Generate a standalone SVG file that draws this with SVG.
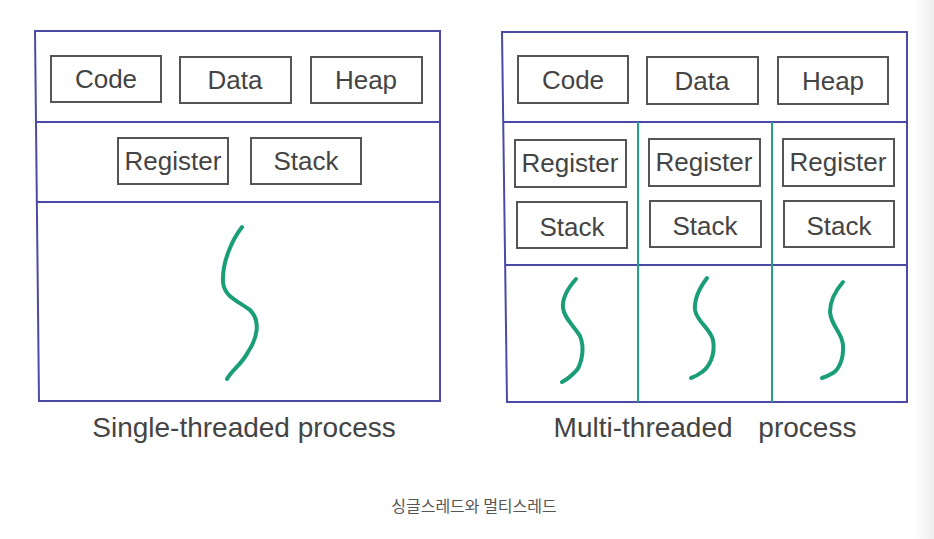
<svg xmlns="http://www.w3.org/2000/svg" width="934" height="539" viewBox="0 0 934 539">
<defs>
<linearGradient id="edge" x1="0" y1="0" x2="1" y2="0">
<stop offset="0" stop-color="#ffffff"/>
<stop offset="1" stop-color="#eeeeee"/>
</linearGradient>
<style>
.outer{fill:none;stroke:#4b4ba6;stroke-width:2}
.div{fill:none;stroke:#4b4ba6;stroke-width:2}
.tdiv{fill:none;stroke:#23a383;stroke-width:2}
.box{fill:#fff;stroke:#555;stroke-width:2}
.lbl{font-family:"Liberation Sans",Arial,sans-serif;font-size:26px;fill:#444;text-anchor:middle}
.title{font-family:"Liberation Sans",Arial,sans-serif;font-size:28px;fill:#444;text-anchor:middle}
.thread{fill:none;stroke:#1a9e78;stroke-width:4;stroke-linecap:round;stroke-linejoin:round}
.cap{font-family:"Noto Sans CJK KR","Noto Sans",sans-serif;font-size:16px;fill:#555;text-anchor:middle}
</style>
</defs>
<rect width="934" height="539" fill="#fff"/>
<rect x="914" y="0" width="20" height="539" fill="url(#edge)"/>

<g id="single-process">
<path class="outer" d="M35 31 L440 31 L440 401 L39 401 Z"/>
<line class="div" x1="36" y1="122" x2="440" y2="122"/>
<line class="div" x1="37" y1="202" x2="440" y2="202"/>
</g>
<g id="s-code"><rect class="box" x="51" y="56" width="110" height="46"/><text class="lbl" x="106" y="88">Code</text></g>
<g id="s-data"><rect class="box" x="180" y="57" width="111" height="46"/><text class="lbl" x="235" y="89">Data</text></g>
<g id="s-heap"><rect class="box" x="311" y="57" width="111" height="46"/><text class="lbl" x="366" y="89">Heap</text></g>
<g id="s-register"><rect class="box" x="118" y="138" width="110" height="46"/><text class="lbl" x="173" y="170">Register</text></g>
<g id="s-stack"><rect class="box" x="251" y="138" width="110" height="46"/><text class="lbl" x="306" y="170">Stack</text></g>
<g id="s-thread"><path class="thread" d="M242 227 C232 240 222 262 223 282 C224 296 236 300 250 310 C262 322 256 340 248 352 C242 364 232 370 227 379"/></g>
<g id="s-title"><text class="title" x="244" y="437">Single-threaded process</text></g>

<g id="multi-process">
<path class="outer" d="M502 32 L907 32 L907 402 L507 402 Z"/>
<line class="div" x1="503" y1="122" x2="907" y2="122"/>
<line class="div" x1="505" y1="265" x2="907" y2="265"/>
<line class="tdiv" x1="638" y1="122" x2="638" y2="402"/>
<line class="tdiv" x1="772" y1="122" x2="772" y2="402"/>
</g>
<g id="m-code"><rect class="box" x="518" y="56" width="110" height="47"/><text class="lbl" x="573" y="89">Code</text></g>
<g id="m-data"><rect class="box" x="647" y="57" width="111" height="47"/><text class="lbl" x="702" y="90">Data</text></g>
<g id="m-heap"><rect class="box" x="778" y="57" width="110" height="47"/><text class="lbl" x="833" y="90">Heap</text></g>
<g id="m-register1"><rect class="box" x="515" y="140" width="111" height="47"/><text class="lbl" x="570" y="172">Register</text></g>
<g id="m-stack1"><rect class="box" x="517" y="202" width="110" height="46"/><text class="lbl" x="572" y="236">Stack</text></g>
<g id="m-register2"><rect class="box" x="649" y="139" width="111" height="47"/><text class="lbl" x="704" y="171">Register</text></g>
<g id="m-stack2"><rect class="box" x="650" y="201" width="111" height="46"/><text class="lbl" x="705" y="235">Stack</text></g>
<g id="m-register3"><rect class="box" x="783" y="139" width="111" height="47"/><text class="lbl" x="838" y="171">Register</text></g>
<g id="m-stack3"><rect class="box" x="784" y="201" width="110" height="46"/><text class="lbl" x="839" y="235">Stack</text></g>
<g id="m-thread1"><path class="thread" d="M576 279 C568 288 562 298 563 308 C564 318 574 326 580 336 C586 350 580 368 575 372 C570 377 566 380 562 382"/></g>
<g id="m-thread2"><path class="thread" d="M707 278 C698 290 694 300 695 310 C697 322 710 328 713 340 C716 356 708 368 702 372 C698 375 694 377 691 378"/></g>
<g id="m-thread3"><path class="thread" d="M843 282 C836 290 830 300 830 312 C831 326 842 332 843 345 C844 360 838 370 833 373 C828 376 825 377 822 378"/></g>
<g id="m-title"><text class="title" x="705" y="437">Multi-threaded <tspan dx="18">process</tspan></text></g>

<g id="caption"><text class="cap" x="474" y="512">싱글스레드와 멀티스레드</text></g>
<g id="connectors"></g>
</svg>
